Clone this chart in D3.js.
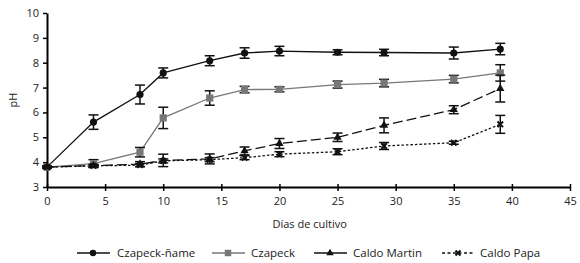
<!DOCTYPE html>
<html>
<head>
<meta charset="utf-8">
<script src="https://cdn.jsdelivr.net/npm/d3@7"></script>
<style>
  body { margin: 0; background: #fff; }
  svg text { font-family: "Open Sans", sans-serif; fill: #222; }
</style>
</head>
<body>
<div class="canvas"></div>
<script>
// Data

const days = [0, 4, 8, 10, 14, 17, 20, 25, 29, 35, 39];

const czapeckName = [3.8, 5.61, 6.72, 7.59, 8.08, 8.39, 8.47, 8.42, 8.41, 8.39, 8.55];
const czapeckNameErr = [0.04, 0.29, 0.38, 0.2, 0.2, 0.21, 0.19, 0.1, 0.13, 0.24, 0.23];

const czapeck = [3.8, 3.94, 4.4, 5.78, 6.58, 6.92, 6.93, 7.12, 7.18, 7.34, 7.59];
const czapeckErr = [0.04, 0.16, 0.19, 0.43, 0.29, 0.13, 0.1, 0.14, 0.15, 0.15, 0.33];

const caldoMartin = [3.8, 3.86, 3.92, 4.07, 4.13, 4.45, 4.75, 5.0, 5.48, 6.11, 6.96];
const caldoMartinErr = [0.03, 0.05, 0.1, 0.25, 0.2, 0.16, 0.2, 0.17, 0.3, 0.16, 0.54];

const caldoPapa = [3.8, 3.85, 3.88, 4.05, 4.1, 4.18, 4.32, 4.42, 4.65, 4.78, 5.52];
const caldoPapaErr = [0.03, 0.05, 0.06, 0.08, 0.08, 0.08, 0.1, 0.12, 0.14, 0.06, 0.36];

const xTicks = [0, 5, 10, 15, 20, 25, 30, 35, 40, 45];
const yTicks = [3, 4, 5, 6, 7, 8, 9, 10];

const seriesNames = ["Czapeck-ñame", "Czapeck", "Caldo Martin", "Caldo Papa"];

// Set dimensions & margins

const W = 580, H = 263;
const margin = { top: 13, right: 10, bottom: 76, left: 47 };
const width = 570 - margin.left;
const height = H - margin.top - margin.bottom;

const x = d3.scaleLinear().domain([0, 45]).range([0, width]);
const y = d3.scaleLinear().domain([3, 10]).range([height, 0]);

const svg = d3.select(".canvas")
    .append("svg")
        .attr("width", W)
        .attr("height", H)
    .append("g")
        .attr("transform", `translate(${margin.left}, ${margin.top})`);

// series styling
const series = [
    { name: seriesNames[0], vals: czapeckName, err: czapeckNameErr, color: "#111", dash: null, marker: "circle" },
    { name: seriesNames[1], vals: czapeck, err: czapeckErr, color: "#777", dash: null, marker: "square" },
    { name: seriesNames[2], vals: caldoMartin, err: caldoMartinErr, color: "#111", dash: "10,4", marker: "triangle" },
    { name: seriesNames[3], vals: caldoPapa, err: caldoPapaErr, color: "#111", dash: "2.5,2", marker: "cross" }
];

// axes

svg.append("g")
    .attr("transform", `translate(0,${height})`)
    .style("font-size", "11px")
    .call(d3.axisBottom(x).tickValues(xTicks).tickSize(4).tickPadding(6).tickSizeOuter(0))
    .call(g => g.select(".domain").attr("stroke-width", 2).attr("stroke", "#000"))
    .call(g => g.selectAll(".tick line").attr("y1", -3).attr("stroke-width", 1.5))
    .selectAll(".tick text").style("font-family", "Open Sans, sans-serif");

svg.append("g")
    .style("font-size", "11px")
    .call(d3.axisLeft(y).tickValues(yTicks).tickFormat(d3.format("d")).tickSize(4).tickPadding(4).tickSizeOuter(0))
    .call(g => g.select(".domain").attr("stroke-width", 2).attr("stroke", "#000"))
    .call(g => g.selectAll(".tick line").attr("stroke-width", 1.5))
    .selectAll(".tick text").style("font-family", "Open Sans, sans-serif");

// axis labels

svg.append("text")
    .attr("transform", "rotate(-90)")
    .attr("x", -y(6.5))
    .attr("y", -30)
    .style("text-anchor", "middle")
    .style("font-size", "11px")
    .text("pH");

svg.append("text")
    .attr("x", x(22.6))
    .attr("y", height + 41)
    .style("text-anchor", "middle")
    .style("font-size", "11px")
    .text("Días de cultivo");

// markers

function drawMarker(g, type, color, cx, cy, sc = 1) {
    if (type === "circle") {
        g.append("circle").attr("cx", cx).attr("cy", cy).attr("r", 3.6 * sc).attr("fill", color);
    } else if (type === "square") {
        const h = 3.6 * sc;
        g.append("rect").attr("x", cx - h).attr("y", cy - h).attr("width", 2 * h).attr("height", 2 * h).attr("fill", color);
    } else if (type === "triangle") {
        g.append("path").attr("d", d3.symbol(d3.symbolTriangle, 30 * sc * sc)()).attr("transform", `translate(${cx},${cy})`).attr("fill", color);
    } else {
        g.append("path").attr("d", d3.symbol(d3.symbolX, 22 * sc * sc)()).attr("transform", `translate(${cx},${cy})`)
            .attr("stroke", color).attr("stroke-width", 2).attr("fill", "none");
    }
}

const line = d3.line().x((d, i) => x(days[i])).y(d => y(d));

series.forEach(s => {
    const g = svg.append("g");

    g.append("path")
        .datum(s.vals)
        .attr("fill", "none")
        .attr("stroke", s.color)
        .attr("stroke-width", 1.3)
        .attr("stroke-dasharray", s.dash)
        .attr("d", line);

    // error bars
    s.vals.forEach((v, i) => {
        const cx = x(days[i]);
        const y1 = y(v - s.err[i]), y2 = y(v + s.err[i]);
        g.append("line").attr("x1", cx).attr("x2", cx).attr("y1", y1).attr("y2", y2)
            .attr("stroke", "#111").attr("stroke-width", 1.5);
        [y1, y2].forEach(yy => {
            g.append("line").attr("x1", cx - 5).attr("x2", cx + 5).attr("y1", yy).attr("y2", yy)
                .attr("stroke", "#111").attr("stroke-width", 1.5);
        });
    });

    s.vals.forEach((v, i) => drawMarker(g, s.marker, s.color, x(days[i]), y(v)));
});

// legend

const legendX = [77, 212, 314, 442];
const legendText = [117, 251, 353, 480];
const legend = svg.append("g").attr("transform", `translate(${-margin.left}, ${-margin.top})`);

series.forEach((s, i) => {
    const lx = legendX[i], ly = 253;
    const lg = legend.append("g");
    lg.append("line").attr("x1", lx).attr("x2", lx + 33).attr("y1", ly).attr("y2", ly)
        .attr("stroke", s.color).attr("stroke-width", 1.5)
        .attr("stroke-dasharray", i === 3 ? "3,2.5" : null);
    drawMarker(lg, s.marker, s.color, lx + 16, ly, 0.9);
    lg.append("text")
        .attr("x", legendText[i])
        .attr("y", ly + 4)
        .style("font-size", "11.5px")
        .text(s.name);
});
</script>
</body>
</html>
